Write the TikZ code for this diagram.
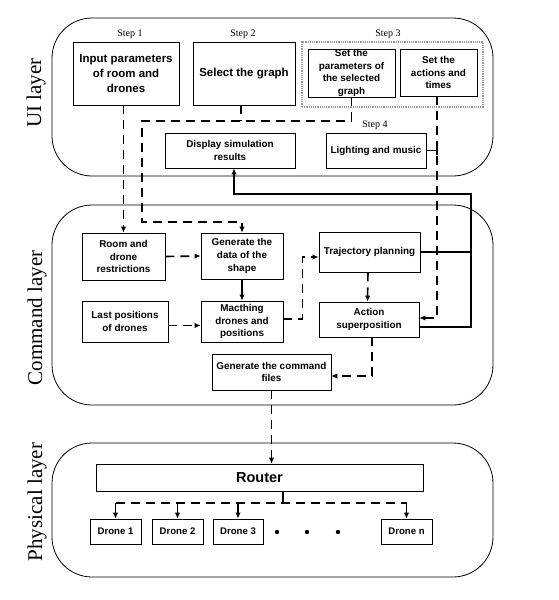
\documentclass[tikz,border=0pt]{standalone}
\usepackage{fontspec}
\setmainfont{Liberation Serif}
\setsansfont{Liberation Sans}
\usetikzlibrary{arrows.meta,calc}
\begin{document}
\begin{tikzpicture}[x=1pt,y=-1pt,
 box/.style={draw,line width=0.8pt,inner sep=0pt,align=center,font=\sffamily\bfseries\fontsize{9.9}{12.8}\selectfont},
 bigbox/.style={box,font=\sffamily\bfseries\fontsize{11.5}{15}\selectfont},
 dronebox/.style={box,minimum width=51,minimum height=25,font=\sffamily\bfseries\fontsize{9.6}{11}\selectfont},
 layer/.style={draw,line width=0.8pt,rounded corners=40pt,inner sep=0pt},
 conn/.style={line width=1.6pt},
 dconn/.style={conn,dash pattern=on 9pt off 6pt},
 tip/.style={-{Latex[length=6pt,width=5.5pt]}},
 steplbl/.style={font=\fontsize{10}{12}\selectfont},
 layerlbl/.style={rotate=90,font=\fontsize{21}{24}\selectfont}]
\path[use as bounding box] (0,0) rectangle (558,600);

% layers
\node[layer,minimum width=441,minimum height=158] (uiL) at (272.5,97) {};
\node[layer,minimum width=441,minimum height=200] (cmdL) at (272.5,305) {};
\node[layer,minimum width=441,minimum height=134] (phL) at (272.5,510) {};
\node[layerlbl] (uiT) at (36,93) {UI layer};
\node[layerlbl] (cmdT) at (37,318) {Command layer};
\node[layerlbl] (phT) at (37,502) {Physical layer};

% steps
\node[steplbl] (st1) at (130,34) {Step 1};
\node[steplbl] (st2) at (243,34) {Step 2};
\node[steplbl] (st3) at (388,34) {Step 3};
\node[steplbl] (st4) at (375,125) {Step 4};

% UI boxes
\node[bigbox,minimum width=106,minimum height=63] (b1) at (126,73.5) {Input parameters\\of room and\\drones};
\node[bigbox,minimum width=102,minimum height=63] (b2) at (244,73.5) {Select the graph};
\node[draw=gray!80,densely dotted,line width=1.2pt,minimum width=181,minimum height=65,inner sep=0pt] (s3) at (392.5,74.5) {};
\node[box,minimum width=87,minimum height=48] (s3a) at (351.5,73) {Set the\\parameters of\\the selected\\graph};
\node[box,minimum width=77,minimum height=47] (s3b) at (438.5,72.5) {Set the\\actions and\\times};
\node[box,minimum width=130,minimum height=35] (disp) at (230,150.5) {Display simulation\\results};
\node[box,minimum width=100,minimum height=35] (light) at (376,150.5) {Lighting and music};

% command boxes
\node[box,minimum width=83,minimum height=47] (room) at (123.5,256.5) {Room and\\drone\\restrictions};
\node[box,minimum width=82,minimum height=46] (gdata) at (242,256) {Generate the\\data of the\\shape};
\node[box,minimum width=101,minimum height=40] (traj) at (369.5,252) {Trajectory planning};
\node[box,minimum width=86,minimum height=41] (last) at (125,321.5) {Last positions\\of drones};
\node[box,minimum width=82,minimum height=41] (match) at (242,321.5) {Macthing\\drones and\\positions};
\node[box,minimum width=100,minimum height=35] (act) at (369,319.5) {Action\\superposition};
\node[box,minimum width=119,minimum height=36] (gcmd) at (271.5,372) {Generate the command\\files};

% physical boxes
\node[box,minimum width=327,minimum height=27,font=\sffamily\bfseries\fontsize{14.5}{16}\selectfont] (router) at (259.5,477.5) {Router};
\node[dronebox] (d1) at (115.5,531.5) {Drone 1};
\node[dronebox] (d2) at (177.5,531.5) {Drone 2};
\node[dronebox,minimum width=50] (d3) at (238,531.5) {Drone 3};
\node[dronebox] (dn) at (406.5,531.5) {Drone n};
\fill (277,532) circle (2.2pt);
\fill (307,532) circle (2.2pt);
\fill (338,532) circle (2.2pt);

% UI connectors
\coordinate (j1) at (142,121);
\coordinate (j2) at (142,222);
\coordinate (r1) at (471,194);
\coordinate (rb) at (283,503);
\draw[dconn,tip] (b1.south -| room.north) -- (room.north);
\draw[dconn] ([xshift=-3pt]b2.south) -- ([xshift=-3pt]b2.south |- j1);
\draw[dconn,tip] (s3a.south) |- (j1) -- (j2) -| (gdata.north);
\draw[dconn,tip] ([xshift=-1.5pt]s3b.south) |- ([yshift=1.5pt]act.east);
\draw[conn] (light.east) -- (light.east -| 437,0);
\draw[conn] (437,145) -- (437,155);
\draw[conn] (traj.east) -- (traj.east -| r1);
\draw[conn,tip] ([yshift=-7.5pt]act.east) -| (r1) -| ([xshift=4pt]disp.south);

% command connectors
\draw[dconn,tip] (room.east) -- (gdata.west);
\draw[conn,tip] (gdata.south) -- (match.north);
\draw[dconn,tip] ([yshift=-4pt]last.east) -- ([yshift=-4pt]last.east -| match.west);
\draw[dconn,tip] ([yshift=2.5pt]match.east) -| ([xshift=-16pt,yshift=-5pt]traj.west) -- ([yshift=-5pt]traj.west);
\draw[dconn,tip] ([xshift=-1.5pt]traj.south) -- ([xshift=-1.5pt]act.north);
\draw[dconn,tip] ([xshift=3pt]act.south) |- ([yshift=-4pt]gcmd.east);
\draw[dconn,tip] (gcmd.south) -- (gcmd.south |- router.north);

% physical connectors
\draw[conn] (router.south -| rb) -- (rb);
\draw[dconn] (d1.north |- rb) -- (dn.north |- rb);
\foreach \d in {d1,d2,d3,dn} \draw[conn,tip] (\d.north |- rb) -- (\d.north);
\end{tikzpicture}
\end{document}
